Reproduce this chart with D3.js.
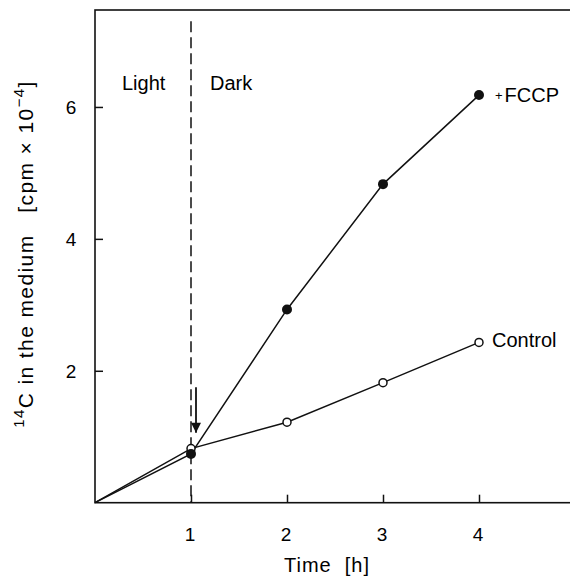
<!DOCTYPE html>
<html>
<head>
<meta charset="utf-8">
<script src="https://cdn.jsdelivr.net/npm/d3@7"></script>
<style>
  body { margin: 0; background: #fff; }
  svg { display: block; font-family: "Liberation Sans", Arial, sans-serif; }
  svg text { white-space: pre; }
</style>
</head>
<body>
<div id="content"></div>
<script>
var width = 570, height = 576

// data
var times = [0, 1, 2, 3, 4]
var control = [0, 0.82, 1.22, 1.82, 2.43]
var fccp = [0, 0.74, 2.93, 4.83, 6.18]
var xTicks = [1, 2, 3, 4]
var yTicks = [2, 4, 6]

var x = d3.scaleLinear().domain([0, 5]).range([95, 575])
var y = d3.scaleLinear().domain([0, 7.47]).range([502.7, 10])

var svg = d3.select('#content')
    .append('svg')
    .attr('width', width)
    .attr('height', height)

// frame
svg.append('rect')
    .attr('x', x(0))
    .attr('y', y(7.47))
    .attr('width', x(5) - x(0))
    .attr('height', y(0) - y(7.47))
    .attr('fill', 'none')
    .attr('stroke', '#111')
    .attr('stroke-width', 1.6)

// axes with inward ticks
var xAxis = svg.append('g')
    .attr('transform', `translate(0,${y(0)})`)
    .call(d3.axisTop(x).tickValues(xTicks).tickSize(8).tickFormat(''))
xAxis.select('.domain').remove()
xAxis.selectAll('line').attr('stroke', '#111').attr('stroke-width', 1.5)

var yAxis = svg.append('g')
    .attr('transform', `translate(${x(0)},0)`)
    .call(d3.axisRight(y).tickValues(yTicks).tickSize(8).tickFormat(''))
yAxis.select('.domain').remove()
yAxis.selectAll('line').attr('stroke', '#111').attr('stroke-width', 1.5)

// tick labels
svg.selectAll('.xlab')
    .data(xTicks)
    .join('text')
    .attr('x', d => x(d) - 1)
    .attr('y', y(0) + 38)
    .attr('text-anchor', 'middle')
    .attr('font-size', 19)
    .text(d => d)

svg.selectAll('.ylab')
    .data(yTicks)
    .join('text')
    .attr('x', x(0) - 24)
    .attr('y', d => y(d) + 7)
    .attr('text-anchor', 'middle')
    .attr('font-size', 19)
    .text(d => d)

svg.append('text')
    .attr('x', 284)
    .attr('y', 572)
    .attr('font-size', 20)
    .attr('letter-spacing', 1)
    .text('Time  [h]')

// y label
var yl = svg.append('text')
    .attr('transform', 'rotate(-90)')
    .attr('x', -254)
    .attr('y', 33)
    .attr('text-anchor', 'middle')
    .attr('font-size', 21)
    .attr('letter-spacing', 1.4)
yl.append('tspan').attr('font-size', 15).attr('dy', -9).text('14')
yl.append('tspan').attr('dy', 9).text('C in the medium   [cpm × 10')
yl.append('tspan').attr('font-size', 15).attr('dy', -9).text('−4')
yl.append('tspan').attr('dy', 9).text(']')

// dashed light/dark boundary
svg.append('line')
    .attr('x1', x(1)).attr('x2', x(1))
    .attr('y1', y(7.3)).attr('y2', y(0))
    .attr('stroke', '#111')
    .attr('stroke-width', 1.5)
    .attr('stroke-dasharray', '11,5')

svg.append('text').attr('x', 122).attr('y', 90).attr('font-size', 20).text('Light')
svg.append('text').attr('x', 210).attr('y', 90).attr('font-size', 20).text('Dark')

// arrow for FCCP addition
svg.append('defs')
    .append('marker')
    .attr('id', 'arrow')
    .attr('viewBox', '0 -5 10 10')
    .attr('refX', 10)
    .attr('refY', 0)
    .attr('markerUnits', 'userSpaceOnUse')
    .attr('markerWidth', 15)
    .attr('markerHeight', 10)
    .attr('orient', 'auto')
    .append('path')
    .attr('fill', '#111')
    .attr('d', 'M0,-5L10,0L0,5Z')

svg.append('line')
    .attr('x1', x(1) + 5).attr('x2', x(1) + 5)
    .attr('y1', y(1.75)).attr('y2', y(1.06))
    .attr('stroke', '#111')
    .attr('stroke-width', 1.8)
    .attr('marker-end', 'url(#arrow)')

// lines
var line = d3.line()
    .x((d, i) => x(times[i]))
    .y(d => y(d))

svg.append('path')
    .datum(control)
    .attr('d', line)
    .attr('fill', 'none')
    .attr('stroke', '#111')
    .attr('stroke-width', 1.5)

svg.append('path')
    .datum(fccp)
    .attr('d', line)
    .attr('fill', 'none')
    .attr('stroke', '#111')
    .attr('stroke-width', 1.5)

// markers (no marker at origin)
svg.selectAll('.ctl')
    .data(control.slice(1))
    .join('circle')
    .attr('cx', (d, i) => x(times[i + 1]))
    .attr('cy', d => y(d))
    .attr('r', 4)
    .attr('fill', '#fff')
    .attr('stroke', '#111')
    .attr('stroke-width', 1.5)

svg.selectAll('.fc')
    .data(fccp.slice(1))
    .join('circle')
    .attr('cx', (d, i) => x(times[i + 1]))
    .attr('cy', d => y(d))
    .attr('r', 5)
    .attr('fill', '#111')

// series labels
var fl = svg.append('text')
    .attr('x', x(4) + 16)
    .attr('y', y(6.18) + 7)
    .attr('font-size', 20)
fl.append('tspan').attr('font-size', 13).attr('dy', -2).text('+')
fl.append('tspan').attr('dy', 2).attr('dx', 2).text('FCCP')

svg.append('text')
    .attr('x', x(4) + 13)
    .attr('y', y(2.43) + 5)
    .attr('font-size', 20)
    .text('Control')
</script>
</body>
</html>
